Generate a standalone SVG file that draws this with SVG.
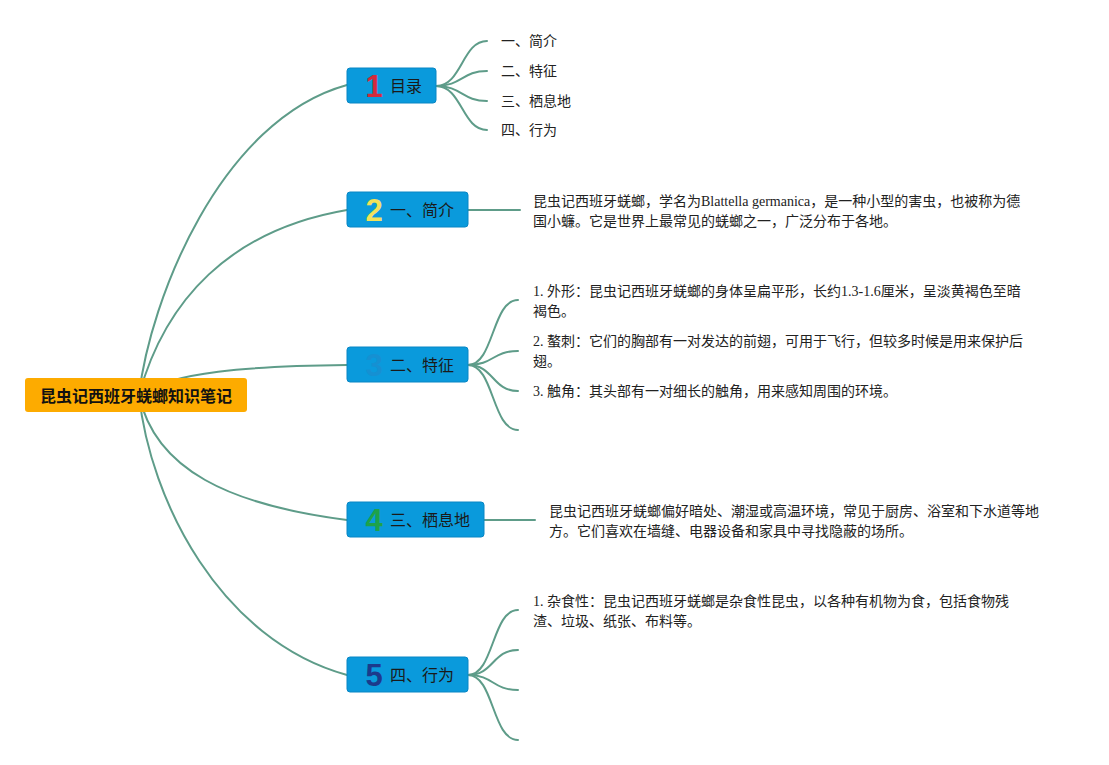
<svg xmlns="http://www.w3.org/2000/svg" width="1109" height="765" viewBox="0 0 1109 765">
<style>
.c{fill:none;stroke:#5E9C89;stroke-width:2;stroke-linecap:round}
.n{fill:#0A9ADC;stroke:#0886C4;stroke-width:1}
.lbl{font-family:"Noto Sans CJK SC","Liberation Sans",sans-serif;font-size:16px;fill:#1a1a1a}
.num{font-family:"Liberation Sans","DejaVu Sans",sans-serif;font-size:31px;font-weight:bold;text-anchor:middle}
.t{font-family:"Liberation Serif","Noto Sans CJK SC",serif;font-size:14px;fill:#222}
.s{font-family:"Noto Sans CJK SC","Liberation Sans",sans-serif;font-size:14px;fill:#222}
</style>
<rect width="1109" height="765" fill="#fff"/>
<g id="connectors">
<path class="c" d="M139,395 C150,300 220,120 347,85"/>
<path class="c" d="M139,395 C165,300 230,230 347,210"/>
<path class="c" d="M139,395 C170,372 250,366 347,365"/>
<path class="c" d="M139,395 C155,470 230,505 347,520"/>
<path class="c" d="M139,395 C150,500 220,640 347,675"/>
<path class="c" d="M436,86 C462,86 462,41 487,41"/>
<path class="c" d="M436,86 C462,86 462,71 487,71"/>
<path class="c" d="M436,86 C462,86 462,101 487,101"/>
<path class="c" d="M436,86 C462,86 462,130 487,130"/>
<path class="c" d="M468,210 L520,210"/>
<path class="c" d="M468,365 C494,365 492,300 518,300"/>
<path class="c" d="M468,365 C494,365 492,351 518,351"/>
<path class="c" d="M468,365 C494,365 492,391 518,391"/>
<path class="c" d="M468,365 C494,365 492,430 518,430"/>
<path class="c" d="M484,520 L535,520"/>
<path class="c" d="M468,675 C494,675 492,610 518,610"/>
<path class="c" d="M468,675 C494,675 492,650 518,650"/>
<path class="c" d="M468,675 C494,675 492,690 518,690"/>
<path class="c" d="M468,675 C494,675 492,740 518,740"/>
</g>
<g id="root">
<rect x="25" y="378" width="222" height="34" rx="3" fill="#FDAB00"/>
<text x="136" y="401.5" text-anchor="middle" font-family="Noto Sans CJK SC, Liberation Sans, sans-serif" font-size="16" font-weight="bold" fill="#111">昆虫记西班牙蜣螂知识笔记</text>
</g>
<g id="node1">
<rect class="n" x="347" y="68" width="89" height="35" rx="3"/>
<text class="num" x="374" y="97" fill="#D42A3C">1</text>
<text class="lbl" x="390" y="92">目录</text>
</g>
<g id="node1-items">
<text class="s" x="501" y="46">一、简介</text>
<text class="s" x="501" y="76">二、特征</text>
<text class="s" x="501" y="106">三、栖息地</text>
<text class="s" x="501" y="135">四、行为</text>
</g>
<g id="node2">
<rect class="n" x="347" y="192" width="121" height="35" rx="3"/>
<text class="num" x="374" y="221" fill="#F2E25A">2</text>
<text class="lbl" x="390" y="216">一、简介</text>
</g>
<g id="node2-text">
<text class="t" x="533" y="206">昆虫记西班牙蜣螂，学名为Blattella germanica，是一种小型的害虫，也被称为德</text>
<text class="t" x="533" y="226">国小蠊。它是世界上最常见的蜣螂之一，广泛分布于各地。</text>
</g>
<g id="node3">
<rect class="n" x="347" y="347" width="121" height="35" rx="3"/>
<text class="num" x="374" y="376" fill="#1690D2">3</text>
<text class="lbl" x="390" y="371">二、特征</text>
</g>
<g id="node3-text">
<text class="t" x="533" y="296">1. 外形：昆虫记西班牙蜣螂的身体呈扁平形，长约1.3-1.6厘米，呈淡黄褐色至暗</text>
<text class="t" x="533" y="316">褐色。</text>
<text class="t" x="533" y="346">2. 螯刺：它们的胸部有一对发达的前翅，可用于飞行，但较多时候是用来保护后</text>
<text class="t" x="533" y="366">翅。</text>
<text class="t" x="533" y="396">3. 触角：其头部有一对细长的触角，用来感知周围的环境。</text>
</g>
<g id="node4">
<rect class="n" x="347" y="502" width="137" height="35" rx="3"/>
<text class="num" x="374" y="531" fill="#1EA24A">4</text>
<text class="lbl" x="390" y="526">三、栖息地</text>
</g>
<g id="node4-text">
<text class="t" x="549" y="516">昆虫记西班牙蜣螂偏好暗处、潮湿或高温环境，常见于厨房、浴室和下水道等地</text>
<text class="t" x="549" y="536">方。它们喜欢在墙缝、电器设备和家具中寻找隐蔽的场所。</text>
</g>
<g id="node5">
<rect class="n" x="347" y="657" width="121" height="35" rx="3"/>
<text class="num" x="374" y="686" fill="#1C3A8C">5</text>
<text class="lbl" x="390" y="681">四、行为</text>
</g>
<g id="node5-text">
<text class="t" x="533" y="606">1. 杂食性：昆虫记西班牙蜣螂是杂食性昆虫，以各种有机物为食，包括食物残</text>
<text class="t" x="533" y="626">渣、垃圾、纸张、布料等。</text>
</g>
</svg>
